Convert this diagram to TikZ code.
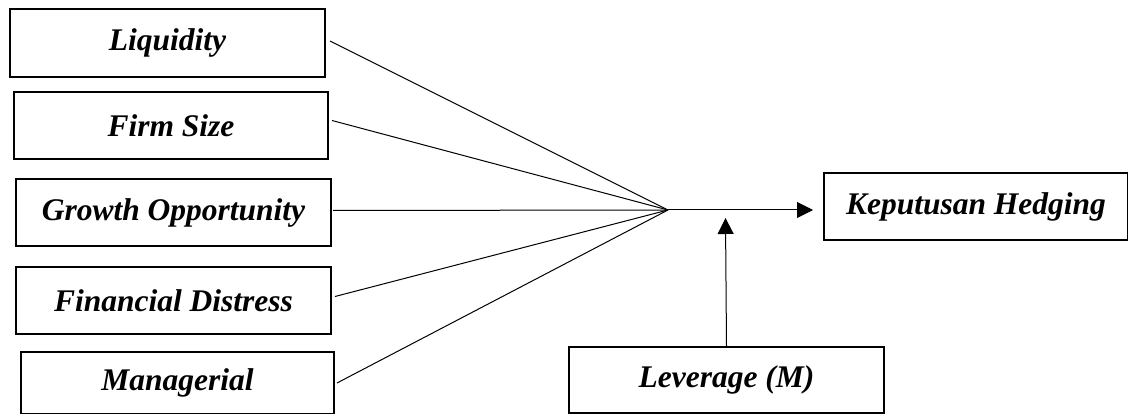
\documentclass[tikz,border=0pt]{standalone}
\usepackage{fontspec}
\setmainfont{Liberation Serif}
\usetikzlibrary{arrows.meta,calc}
\begin{document}
\begin{tikzpicture}[x=1pt,y=-1pt,
  box/.style={draw,line width=2pt,anchor=north west,inner sep=0pt,
    font=\fontsize{31.5}{36}\selectfont\bfseries\itshape},
  link/.style={line width=1pt},
  arr/.style={line width=1pt,-{Triangle[length=16pt,width=16pt]}}]
\useasboundingbox (0,0) rectangle (1128,414);
\node[box,minimum width=315pt,minimum height=68pt] (liq) at (9,8) {Liquidity};
\node[box,minimum width=314pt,minimum height=67pt] (fs) at (13,91) {Firm Size};
\node[box,minimum width=315pt,minimum height=67pt] (go) at (15,178) {Growth Opportunity};
\node[box,minimum width=315pt,minimum height=67pt] (fd) at (15,266) {Financial Distress};
\node[box,minimum width=313pt,minimum height=62pt] (man) at (20,351) {Managerial};
\node[box,minimum width=304pt,minimum height=67pt] (kh) at (823,172) {Keputusan Hedging};
\node[box,minimum width=315pt,minimum height=66pt] (lev) at (568,346) {Leverage (M)};
\coordinate (hub) at (668,210);
\coordinate (modtip) at (725.5,218);
\coordinate (khin) at (813,210);
\draw[link] ($(liq.east)+(4,-2)$) -- (hub);
\draw[link] ($(fs.east)+(3,-5)$) -- (hub);
\draw[link] ($(go.east)+(1,-2)$) -- (hub);
\draw[link] ($(fd.east)+(3,-4)$) -- (hub);
\draw[link] ($(man.east)+(2,0)$) -- (hub);
\draw[arr] (hub) -- (khin);
\draw[arr] (lev.north) -- (modtip);
\end{tikzpicture}
\end{document}
